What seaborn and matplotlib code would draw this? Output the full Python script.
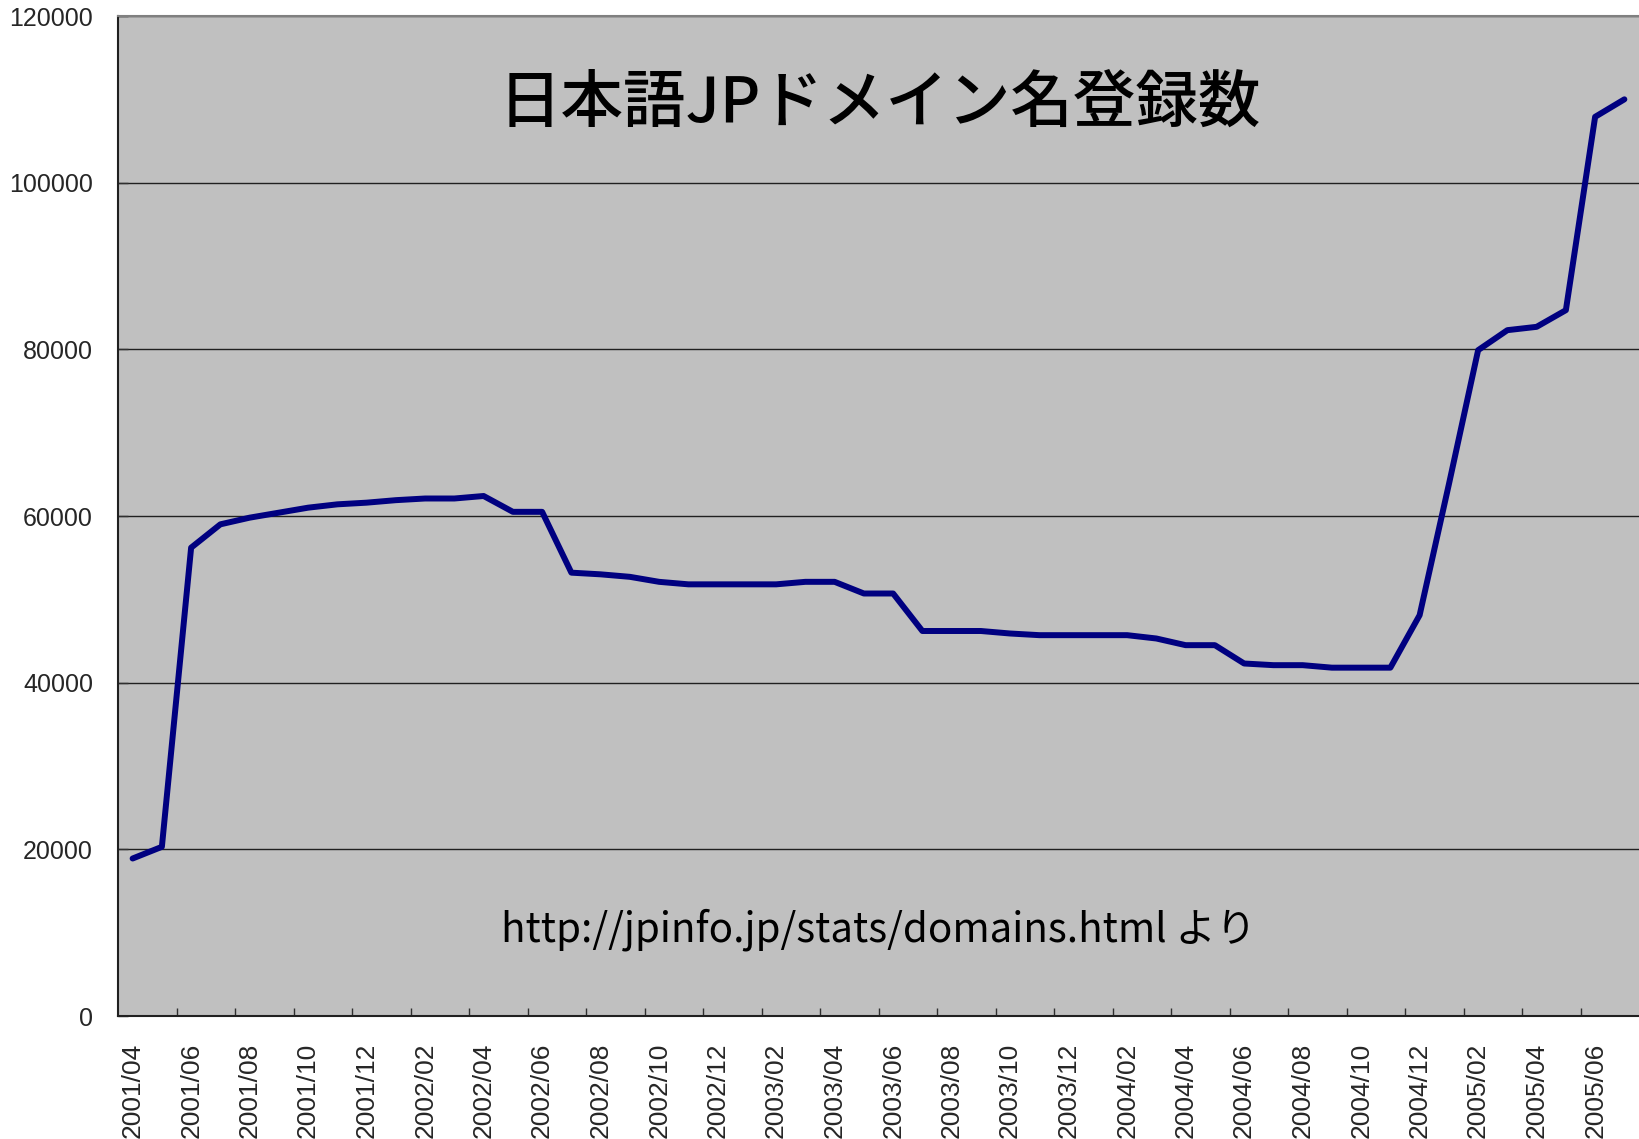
import pandas as pd
import matplotlib.pyplot as plt
import seaborn as sns
from matplotlib.ticker import FixedLocator

# --- datos: registros mensuales de dominios JP en japonés ---
MESES = [p.strftime("%Y/%m") for p in pd.period_range("2001-04", "2005-07", freq="M")]
REGISTROS = [
    18900, 20300, 56200, 59000, 59800, 60400, 61000, 61400, 61600, 61900,
    62100, 62100, 62400, 60500, 60500, 53200, 53000, 52700, 52100, 51800,
    51800, 51800, 51800, 52100, 52100, 50700, 50700, 46200, 46200, 46200,
    45900, 45700, 45700, 45700, 45700, 45300, 44500, 44500, 42300, 42100,
    42100, 41800, 41800, 41800, 48100, 63800, 79900, 82300, 82700, 84700,
    107900, 110000,
]
Y_TICKS = [0, 20000, 40000, 60000, 80000, 100000, 120000]
TITULO = "日本語JPドメイン名登録数"
FUENTE = "http://jpinfo.jp/stats/domains.html より"

df = pd.DataFrame({"mes": MESES, "registros": REGISTROS})

sns.set_theme(style="white", rc={"axes.facecolor": "#C0C0C0"})
plt.rcParams["font.family"] = ["Liberation Sans", "Noto Sans CJK JP", "DejaVu Sans"]

fig = plt.figure(figsize=(16.39, 11.39), dpi=100)
ax = fig.add_axes([118 / 1639, 123 / 1139, 1 - 118 / 1639, 1000 / 1139])

sns.lineplot(data=df, x="mes", y="registros", ax=ax, color="#000080",
             linewidth=4.3, solid_capstyle="round", sort=False)

n = len(MESES)
ax.set_xlim(-0.5, n - 0.5)
ax.set_ylim(0, 120000)
ax.set_yticks(Y_TICKS)
ax.set_yticklabels([str(v) for v in Y_TICKS])

# etiquetas cada dos meses, marcas entre categorías
ax.xaxis.set_major_locator(FixedLocator(list(range(0, n, 2))))
ax.set_xticklabels(MESES[::2], rotation=90, va="top", ha="center")
ax.xaxis.set_minor_locator(FixedLocator([k - 0.5 for k in range(2, n, 2)]))
ax.tick_params(axis="x", which="major", length=0, pad=19, labelsize=19)
ax.tick_params(axis="x", which="minor", length=6, width=1, direction="in",
               color="#303030", bottom=True)
ax.tick_params(axis="y", length=7, width=1, direction="in", pad=18,
               labelsize=18, color="#303030", left=True)

ax.yaxis.grid(True, color="#202020", linewidth=1)
ax.set_axisbelow(True)
ax.set_xlabel("")
ax.set_ylabel("")

for lado in ["left", "bottom"]:
    ax.spines[lado].set_color("#202020")
    ax.spines[lado].set_linewidth(1.5)
ax.spines["top"].set_color("#808080")
ax.spines["top"].set_linewidth(1.5)
ax.spines["right"].set_visible(False)

ax.text(0.501, 0.912, TITULO, transform=ax.transAxes, ha="center", va="center",
        fontsize=45, fontweight="medium",
        family=["Noto Sans CJK JP", "DejaVu Sans"], color="black")
ax.text(0.5, 0.086, FUENTE, transform=ax.transAxes, ha="center", va="center",
        fontsize=29, family=["Noto Sans CJK JP", "DejaVu Sans"], color="black")

fig.savefig("out.png", dpi=100)
